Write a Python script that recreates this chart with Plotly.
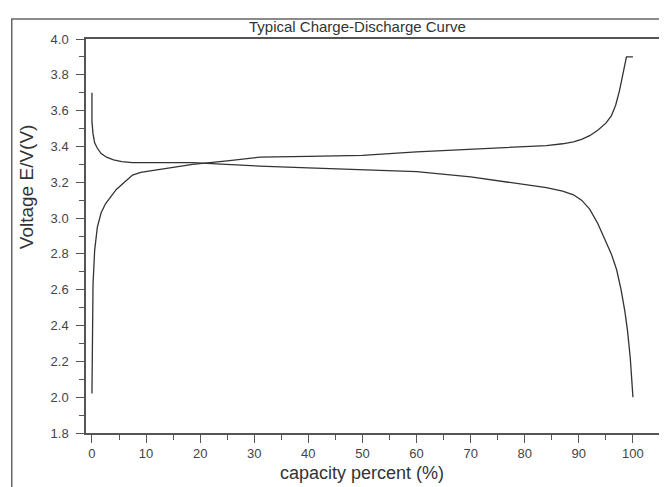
import plotly.graph_objects as go

# Charge curve (lower-left, rising to 3.9 V)
charge_x = [0, 0.05, 0.2, 0.5, 1, 1.7, 2.5, 3.5, 4.5, 6, 7.5, 9, 12, 18.6, 25, 31,
            40, 50, 60, 70, 75, 80, 84, 87, 89, 90.5, 92, 93.5, 95, 96, 96.8, 97.5,
            98, 98.5, 98.8, 100]
charge_y = [2.02, 2.3, 2.63, 2.82, 2.95, 3.03, 3.08, 3.12, 3.16, 3.20, 3.24, 3.255,
            3.27, 3.30, 3.32, 3.34, 3.345, 3.35, 3.37, 3.385, 3.39, 3.40, 3.405, 3.415,
            3.425, 3.44, 3.46, 3.49, 3.53, 3.57, 3.63, 3.71, 3.78, 3.86, 3.90, 3.90]

# Discharge curve (starts at 3.7 V, falls to 2.0 V)
discharge_x = [0, 0, 0.2, 0.5, 1, 1.7, 2.7, 4, 5.5, 7.5, 12, 18.6, 24.8, 31, 40, 50,
               60, 70, 75, 80, 84, 87, 89, 90.5, 92, 93.5, 95, 96, 97, 97.8, 98.5, 99,
               99.5, 100]
discharge_y = [3.70, 3.54, 3.47, 3.42, 3.39, 3.36, 3.34, 3.325, 3.315, 3.31, 3.31,
               3.31, 3.30, 3.29, 3.28, 3.27, 3.26, 3.23, 3.21, 3.19, 3.17, 3.15, 3.13,
               3.10, 3.05, 2.97, 2.87, 2.80, 2.71, 2.60, 2.48, 2.37, 2.22, 2.00]

title_text = "Typical Charge-Discharge Curve"
x_title = "capacity percent (%)"
y_title = "Voltage E/V(V)"

# the page body adds an 8px offset; work in page pixels and subtract it
OFF = 8
W, H = 667 - OFF, 487 - OFF
L, T = 86 - OFF, 39 - OFF
R = W - (662 - OFF)
B = H - (433 - OFF)
pw, ph = W - L - R, H - T - B


def px_x(p):  # page pixel x -> paper
    return (p - OFF - L) / pw


def px_y(p):  # page pixel y -> paper
    return 1 - (p - OFF - T) / ph


fig = go.Figure()
line_style = dict(color="#333333", width=1.3)
fig.add_trace(go.Scatter(x=charge_x, y=charge_y, mode="lines", line=line_style,
                         showlegend=False))
fig.add_trace(go.Scatter(x=discharge_x, y=discharge_y, mode="lines", line=line_style,
                         showlegend=False))

font_family = "Liberation Sans, Arial, sans-serif"
axis_common = dict(showgrid=False, zeroline=False, showline=True, linecolor="#555555",
                   linewidth=1.5, mirror=True, ticks="outside", ticklen=8,
                   tickwidth=1.3, tickcolor="#555555",
                   tickfont=dict(family=font_family, size=13, color="#444444"))

fig.update_xaxes(range=[-1.1, 105], tickmode="array",
                 tickvals=list(range(0, 101, 10)),
                 minor=dict(tickvals=list(range(5, 101, 10)), ticks="outside",
                            ticklen=5, tickwidth=1.3, tickcolor="#555555"),
                 **axis_common)
fig.update_yaxes(range=[1.8, 4.0], tickmode="array",
                 tickvals=[round(1.8 + 0.2 * i, 1) for i in range(12)],
                 tickformat=".1f", ticklabelstandoff=5,
                 minor=dict(tickvals=[round(1.9 + 0.2 * i, 1) for i in range(11)],
                            ticks="outside", ticklen=5, tickwidth=1.3,
                            tickcolor="#555555"),
                 **axis_common)

# outer frame of the original figure (left and top edges)
fx = px_x(11.5)
fy = px_y(19)
fig.add_shape(type="path", xref="paper", yref="paper",
              path=f"M {fx} -0.3 L {fx} {fy} L 1.2 {fy}",
              line=dict(color="#666666", width=1.5))

annotations = [
    dict(text=title_text, xref="paper", yref="paper", x=px_x(358), y=px_y(26.5),
         xanchor="center", yanchor="middle", showarrow=False,
         font=dict(family=font_family, size=15, color="#333333")),
    dict(text=x_title, xref="paper", yref="paper", x=px_x(363), y=px_y(473),
         xanchor="center", yanchor="middle", showarrow=False,
         font=dict(family=font_family, size=18, color="#333333")),
    dict(text=y_title, xref="paper", yref="paper", x=px_x(26), y=px_y(187),
         xanchor="center", yanchor="middle", showarrow=False,
         textangle=-90, font=dict(family=font_family, size=19, color="#333333")),
]

fig.update_layout(width=W, height=H, margin=dict(l=L, r=R, t=T, b=B, pad=0),
                  paper_bgcolor="white", plot_bgcolor="white",
                  annotations=annotations)

fig.write_html("out.html")
